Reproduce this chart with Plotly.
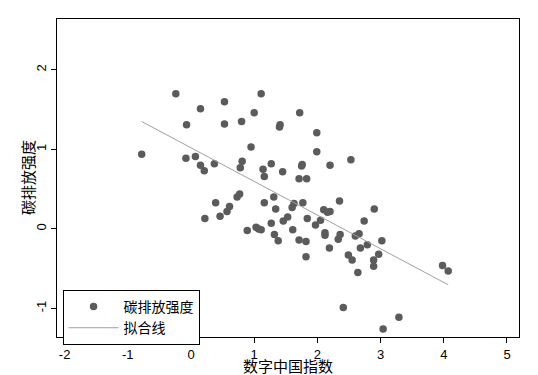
import numpy as np
import plotly.graph_objects as go

# Data
digital_index = [
    -0.78, -0.24, 0.15, -0.07, -0.08, 0.07, 0.15, 0.21, 0.37, 0.53,
    0.53, 0.80, 1.00, 1.11, 1.41, 1.40, 0.95, 0.81, 0.78, 1.14,
    1.16, 1.27, 1.45, 1.72, 1.99, 1.99, 1.76, 1.75, 1.71, 1.83,
    2.20, 2.53, 0.39, 0.22, 0.46, 0.57, 0.61, 0.73, 0.77, 0.89,
    1.03, 1.07, 1.11, 1.16, 1.31, 1.34, 1.27, 1.32, 1.38, 1.46,
    1.53, 1.60, 1.63, 1.77, 1.61, 1.71, 1.82, 1.84, 1.82, 1.97,
    2.05, 2.10, 2.16, 2.20, 2.12, 2.12, 2.19, 2.35, 2.33, 2.36,
    2.60, 2.66, 2.74, 2.68, 2.79, 2.49, 2.55, 2.64, 2.89, 2.89,
    2.90, 2.97, 3.02, 2.41, 3.04, 3.29, 3.98, 4.07,
]
carbon_intensity = [
    0.94, 1.70, 1.51, 1.31, 0.89, 0.91, 0.80, 0.73, 0.82, 1.60,
    1.32, 1.35, 1.46, 1.70, 1.31, 1.28, 1.03, 0.85, 0.77, 0.75,
    0.66, 0.82, 0.72, 1.46, 1.21, 0.97, 0.81, 0.79, 0.63, 0.63,
    0.80, 0.87, 0.33, 0.13, 0.16, 0.22, 0.28, 0.40, 0.44, -0.02,
    0.02, 0.00, -0.01, 0.33, 0.40, 0.25, 0.07, -0.07, -0.15, 0.10,
    0.15, 0.27, 0.32, 0.33, -0.01, -0.14, -0.16, 0.13, -0.35, 0.05,
    0.11, 0.24, 0.21, 0.22, -0.05, -0.08, -0.24, 0.35, -0.13, -0.07,
    -0.09, -0.06, 0.10, -0.24, -0.20, -0.33, -0.39, -0.55, -0.39, -0.47,
    0.25, -0.32, -0.15, -0.99, -1.26, -1.11, -0.46, -0.53,
]
x_ticks = [-2, -1, 0, 1, 2, 3, 4, 5]
x_tick_labels = ["-2", "-1", "0", "1", "2", "3", "4", "5"]
y_ticks = [-1, 0, 1, 2]
y_tick_labels = ["-1", "0", "1", "2"]
series_name = "碳排放强度"
fit_name = "拟合线"
x_title = "数字中国指数"
y_title = "碳排放强度"

x = np.array(digital_index)
y = np.array(carbon_intensity)
slope, intercept = np.polyfit(x, y, 1)
fit_x = np.array([x.min(), x.max()])
fit_y = intercept + slope * fit_x

cjk = "Noto Sans CJK SC"
latin = "Liberation Sans, Arial"

fig = go.Figure()
fig.add_trace(go.Scatter(
    x=x, y=y, mode="markers", name=series_name,
    marker=dict(color="#5b5b5b", size=7.5, line=dict(width=0)),
))
fig.add_trace(go.Scatter(
    x=fit_x, y=fit_y, mode="lines", name=fit_name,
    line=dict(color="#a0a0a0", width=1),
))

axis_common = dict(
    showgrid=False, zeroline=False, showline=True, mirror=True,
    linecolor="black", linewidth=1, ticks="outside", ticklen=5,
    tickcolor="black", tickwidth=1,
    tickfont=dict(family=latin, size=13, color="black"),
)

fig.update_layout(
    width=538, height=375,
    margin=dict(l=57, r=19, t=19, b=38),
    paper_bgcolor="white", plot_bgcolor="white",
    showlegend=True,
    legend=dict(
        x=0.012, y=0.148, xanchor="left", yanchor="top",
        bordercolor="black", borderwidth=1, bgcolor="white",
        font=dict(family=cjk, size=14, color="black"),
        itemwidth=50, tracegroupgap=0,
    ),
    xaxis=dict(range=[-2.12, 5.19], tickvals=x_ticks, ticktext=x_tick_labels,
               **axis_common),
    yaxis=dict(range=[-1.36, 2.64], tickvals=y_ticks, ticktext=y_tick_labels,
               tickangle=-90, **axis_common),
    annotations=[
        dict(text=x_title, xref="paper", yref="paper", x=0.5, y=0,
             yshift=-28.5, xanchor="center", yanchor="middle", showarrow=False,
             font=dict(family=cjk, size=15, color="black")),
        dict(text=y_title, xref="paper", yref="paper", x=0, y=0.5,
             xshift=-30, xanchor="center", yanchor="middle", showarrow=False,
             textangle=-90, font=dict(family=cjk, size=15, color="black")),
    ],
)

fig.write_html("out.html")
